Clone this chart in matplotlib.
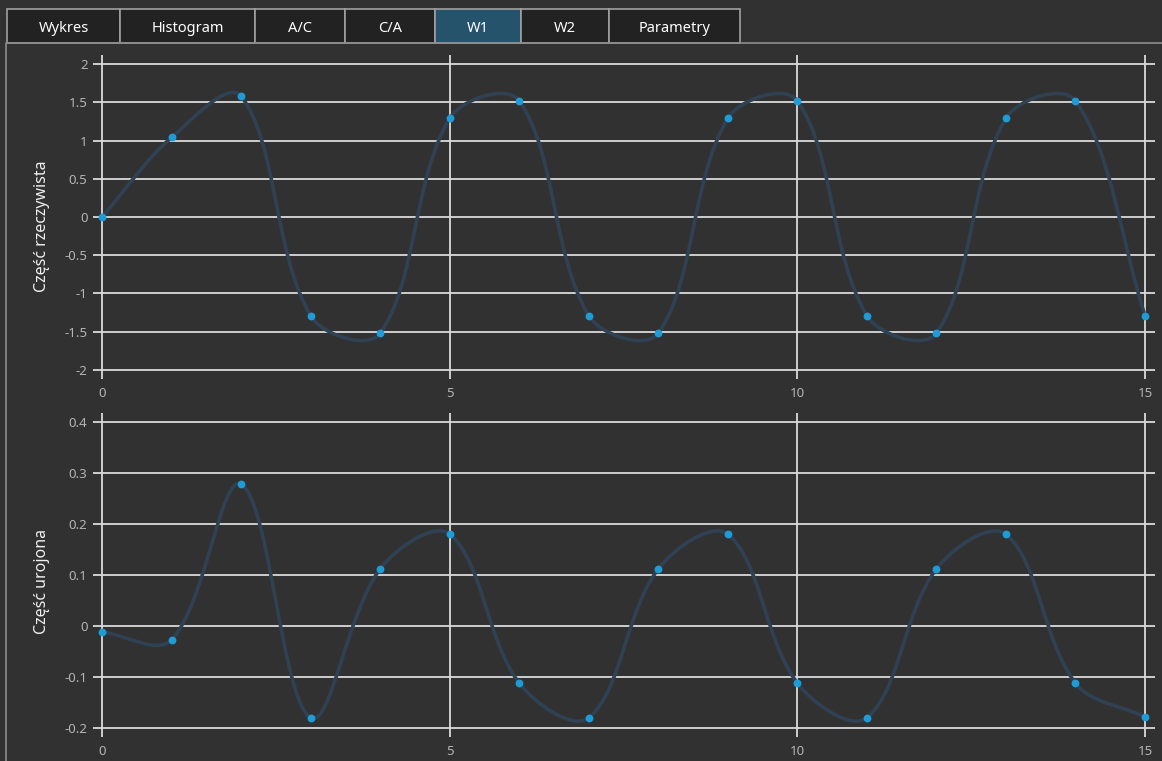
import numpy as np
import matplotlib
matplotlib.use("Agg")
import matplotlib.pyplot as plt
from matplotlib.path import Path
from matplotlib.patches import PathPatch, Rectangle
from matplotlib.lines import Line2D

plt.rcParams['font.family'] = ['Noto Sans', 'DejaVu Sans']

# data
x_vals = list(range(16))
real_part = [0, 1.04, 1.58, -1.29, -1.52, 1.29, 1.52, -1.29,
             -1.52, 1.29, 1.52, -1.29, -1.52, 1.29, 1.52, -1.29]
imag_part = [-0.012, -0.027, 0.278, -0.18, 0.112, 0.18, -0.112, -0.18,
             0.112, 0.18, -0.112, -0.18, 0.112, 0.18, -0.112, -0.178]

tabs = ["Wykres", "Histogram", "A/C", "C/A", "W1", "W2", "Parametry"]
tab_edges = [7, 120, 255, 345, 435, 521, 609, 740]
active_tab = "W1"

real_ticks = [-2, -1.5, -1, -0.5, 0, 0.5, 1, 1.5, 2]
imag_ticks = [-0.2, -0.1, 0, 0.1, 0.2, 0.3, 0.4]
x_ticks = [0, 5, 10, 15]

BG = '#313131'
GRID = '#dadada'
LINE = '#2f4153'
DOT = '#1e9cd8'
TICK = '#b4b4b4'

W, H = 1162, 761
fig = plt.figure(figsize=(W / 100, H / 100), dpi=100)
fig.patch.set_facecolor(BG)


def px(x0, y0, x1, y1):
    # pixel box (top-left origin) -> figure fraction rect
    return [x0 / W, 1 - y1 / H, (x1 - x0) / W, (y1 - y0) / H]


def smooth_path(xs, ys, sx, sy, k=0.7):
    # bezier smoothing done in pixel space, returned in data coords
    P = np.column_stack([np.asarray(xs, float) * sx, np.asarray(ys, float) * sy])
    n = len(P)
    verts = [P[0]]
    codes = [Path.MOVETO]
    for i in range(n - 1):
        p0 = P[i - 1] if i > 0 else P[i]
        p1 = P[i]
        p2 = P[i + 1]
        p3 = P[i + 2] if i + 2 < n else P[i + 1]
        c1 = (p0 + p1) / 2
        c2 = (p1 + p2) / 2
        c3 = (p2 + p3) / 2
        l1 = np.hypot(*(p1 - p0))
        l2 = np.hypot(*(p2 - p1))
        l3 = np.hypot(*(p3 - p2))
        k1 = l1 / (l1 + l2) if l1 + l2 > 0 else 0
        k2 = l2 / (l2 + l3) if l2 + l3 > 0 else 0
        m1 = c1 + (c2 - c1) * k1
        m2 = c2 + (c3 - c2) * k2
        cp1 = m1 + (c2 - m1) * k + p1 - m1
        cp2 = m2 + (c2 - m2) * k + p2 - m2
        verts += [cp1, cp2, p2]
        codes += [Path.CURVE4] * 3
    V = np.array(verts)
    V[:, 0] /= sx
    V[:, 1] /= sy
    return Path(V, codes)


def make_panel(rect, ys, yticks, ylim, ylabel, label_y):
    ax = fig.add_axes(rect)
    ax.set_facecolor(BG)
    ax.set_xlim(-0.13, 15.144)
    ax.set_ylim(*ylim)
    for s in ax.spines.values():
        s.set_visible(False)
    ax.set_xticks(x_ticks)
    ax.set_yticks(yticks)
    ax.set_yticklabels([f"{t:g}" for t in yticks])
    ax.tick_params(length=0, colors=TICK, labelsize=9.5)
    ax.tick_params(axis='y', pad=4)
    ax.tick_params(axis='x', pad=6)
    ax.grid(True, color=GRID, linewidth=1.3)
    ax.set_axisbelow(True)

    # pixel scale for smoothing
    bbox = ax.get_position()
    sx = bbox.width * W / (ax.get_xlim()[1] - ax.get_xlim()[0])
    sy = bbox.height * H / (ylim[1] - ylim[0])
    path = smooth_path(x_vals, ys, sx, sy)
    ax.add_patch(PathPatch(path, facecolor='none', edgecolor=LINE,
                           linewidth=2.6, capstyle='round', zorder=3))
    ax.plot(x_vals, ys, 'o', color=DOT, markersize=4.6, zorder=4)

    fig.text(42 / W, 1 - label_y / H, ylabel, rotation=90, color='#f0f0f0',
             fontsize=11.5, ha='center', va='center')
    return ax


make_panel(px(93, 55, 1155, 379), real_part, real_ticks,
           (-2.118, 2.118), "Część rzeczywista", 226)
make_panel(px(93, 413, 1155, 737), imag_part, imag_ticks,
           (-0.2176, 0.4176), "Część urojona", 582)

# panel border
fig.add_artist(Line2D([6 / W, 6 / W, 1], [0, 1 - 43 / H, 1 - 43 / H],
                      transform=fig.transFigure, color='#8c8c8c', linewidth=1.2))

# tabs
for i, name in enumerate(tabs):
    x0, x1 = tab_edges[i], tab_edges[i + 1]
    fc = '#25536b' if name == active_tab else '#222222'
    fig.add_artist(Rectangle((x0 / W, 1 - 43 / H), (x1 - x0) / W, 34 / H,
                             transform=fig.transFigure, facecolor=fc,
                             edgecolor='#a0a0a0', linewidth=1.2))
    fig.text((x0 + x1) / 2 / W, 1 - 28 / H, name, color='white',
             fontsize=10.5, ha='center', va='center')

fig.savefig("out.png", dpi=100, facecolor=BG)
